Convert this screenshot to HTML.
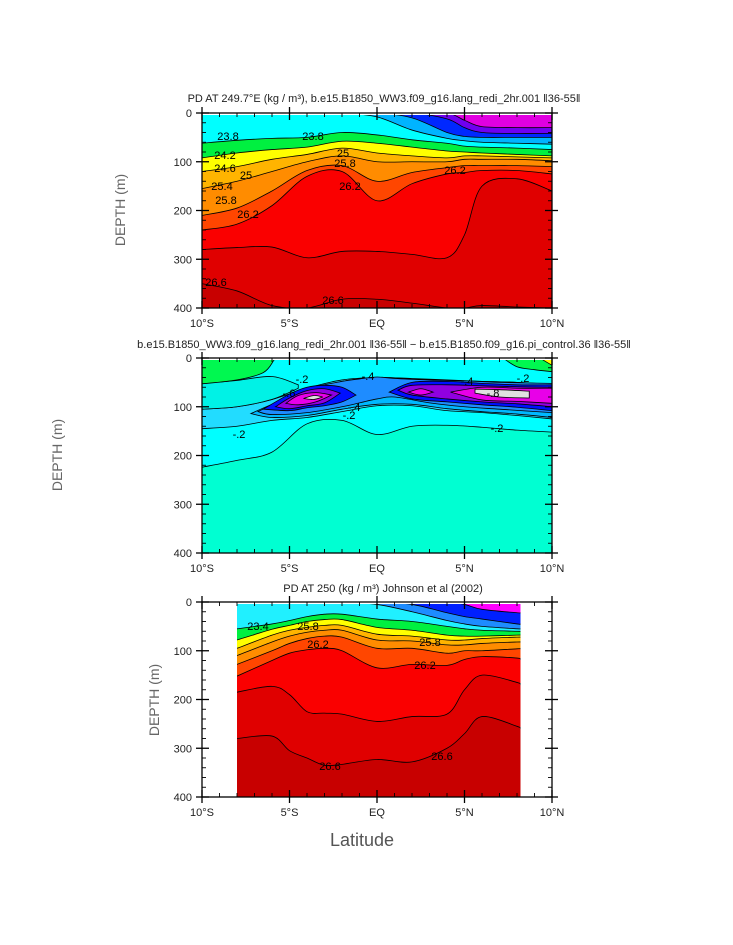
<!DOCTYPE html>
<html><head><meta charset="utf-8"><style>
html,body{margin:0;padding:0;background:#fff;}
svg{display:block;font-family:"Liberation Sans",sans-serif;}
</style></head><body>
<svg id="fig" width="733" height="945" viewBox="0 0 733 945">
</svg>
<script>
// ---------- DATA ----------
const panelLatTicks = [-10,-5,0,5,10];
const latTickLabels = ["10°S","5°S","EQ","5°N","10°N"];
const depthTicks = [0,100,200,300,400];

// Panel 1: depth (m) of density surfaces at these latitudes
const lats1 = [-10,-8,-6,-4,-2,0,2,4,5,6,8,10];
const p1_266 = [350,365,395,400,382,382,390,400,400,395,398,400];
const p1_264 = [280,276,275,297,284,284,290,297,250,150,135,160];
const p1_262 = [240,228,190,130,120,180,145,125,122,118,118,125];
const p1_260 = [210,195,160,118,108,140,122,112,108,108,108,110];
const p1_254 = [155,140,120,100,88,100,100,100,95,95,95,98];
const p1_250 = [120,110,95,85,72,82,88,92,88,88,90,92];
const p1_246 = [92,82,75,70,58,62,70,78,80,82,85,88];
const p1_242 = [62,56,52,50,40,45,55,62,68,70,72,75];
const p1_236 = [0,0,0,0,0,8,35,52,57,60,62,64];
const p1_232 = [0,0,0,0,0,0,10,40,48,50,50,50];
const p1_228 = [0,0,0,0,0,0,0,12,30,40,42,42];
const p1_224 = [0,0,0,0,0,0,0,0,15,28,30,30];

// Panel 3
const lats3 = [-8,-6,-5,-4,-3,-2,0,2,4,5,6,8,8.2];
const p3_266 = [280,275,305,320,335,333,323,328,300,270,235,255,260];
const p3_264 = [185,173,190,225,228,230,245,235,230,180,150,165,170];
const p3_262 = [152,120,105,98,95,100,135,128,130,118,112,115,118];
const p3_260 = [128,100,85,75,70,72,95,95,105,100,100,96,96];
const p3_254 = [110,82,70,62,58,58,78,80,88,88,85,82,82];
const p3_250 = [95,68,58,52,48,48,66,70,78,78,75,72,72];
const p3_246 = [78,56,48,40,36,36,52,58,68,70,70,68,68];
const p3_242 = [55,45,38,30,25,25,35,40,50,55,58,60,60];
const p3_236 = [0,0,0,0,0,0,5,20,38,45,50,55,55];
const p3_232 = [0,0,0,0,0,0,0,5,22,30,35,45,45];
const p3_224 = [0,0,0,0,0,0,0,0,0,5,15,22,22];

// Panel 2 difference field bands: lat, top depth, bottom depth
const d2_cyanLat = [-10,-8,-6,-4,-2,0,2,4,6,8,10];
const d2_cyanBot = [224,210,193,135,128,157,140,138,142,148,152];
const d2_envTop = [105,100,85,62,45,40,42,45,48,50,55];
const d2_envBot = [145,140,128,122,110,98,98,108,112,118,125];
const d2_tealLat = [-10,-8,-6,-4.5];
const d2_tealTop = [52,46,38,55];
const d2_tealBot = [105,100,85,62];
const d2_lbLat = [-7.2,-6,-4,-2,0,2,4,6,8,10];
const d2_lbTop = [114,95,68,48,40,43,46,48,50,54];
const d2_lbBot = [114,122,118,105,95,95,104,110,115,122];
const d2_mbLat = [-6.8,-6,-4,-2,-1,0,1,3,5,7,10];
const d2_mbTop = [110,96,64,48,43,39,42,45,47,50,52];
const d2_mbBot = [110,116,112,100,92,84,80,92,100,105,112];
const d2_bLLat = [-6.5,-5,-4,-3,-2,-1.2];
const d2_bLTop = [105,74,60,56,60,76];
const d2_bLBot = [105,108,102,98,90,76];
const d2_bRLat = [0.7,2,4,6,8,10];
const d2_bRTop = [70,50,48,52,55,55];
const d2_bRBot = [70,84,90,96,101,108];
const d2_pLLat = [-5.8,-5,-4,-3,-2.1];
const d2_pLTop = [100,82,67,63,72];
const d2_pLBot = [100,104,98,92,72];
const d2_pRLat = [1.2,2,4,6,8,10];
const d2_pRTop = [66,56,55,57,59,60];
const d2_pRBot = [66,76,84,90,94,100];
const d2_mLLat = [-5.2,-4.5,-3.5,-2.6];
const d2_mLTop = [93,77,71,76];
const d2_mLBot = [93,96,90,76];
const d2_m1Lat = [1.8,2.5,3.2];
const d2_m1Top = [70,63,70];
const d2_m1Bot = [70,76,70];
const d2_m2Lat = [4.2,6,8,10];
const d2_m2Top = [70,60,62,62];
const d2_m2Bot = [70,86,89,93];
const d2_wLLat = [-4.2,-3.6,-3.1];
const d2_wLTop = [83,77,80];
const d2_wLBot = [83,85,80];
const d2_wRLat = [5.6,7,8.7];
const d2_wRTop = [64,65,68];
const d2_wRBot = [72,80,82];
const d2_gLLat = [-10,-8,-6.5,-5.9,-5.85];
const d2_gLBot = [53,45,30,5,0];
const d2_gRLat = [7.2,8,9,10];
const d2_gRBot = [0,18,24,28];
const d2_yLat = [9.3,10];
const d2_yBot = [0,15];

// ---------- DRAW ----------
const NS="http://www.w3.org/2000/svg";
const svg=document.getElementById('fig');
const panels=[{x0:202,x1:552,y0:113,y1:308},{x0:202,x1:552,y0:358,y1:553},{x0:202,x1:552,y0:602,y1:797}];
function X(p,lat){return p.x0+(lat+10)/20*(p.x1-p.x0);}
function Y(p,d){return p.y0+d/400*(p.y1-p.y0);}
function mk(tag,attrs,parent){const e=document.createElementNS(NS,tag);for(const k in attrs)e.setAttribute(k,attrs[k]);(parent||svg).appendChild(e);return e;}
function crPath(pts,move){
  let s=move?`M${pts[0][0]},${pts[0][1]}`:`L${pts[0][0]},${pts[0][1]}`;
  for(let i=0;i<pts.length-1;i++){
    const p0=pts[Math.max(0,i-1)],p1=pts[i],p2=pts[i+1],p3=pts[Math.min(pts.length-1,i+2)];
    const c1=[p1[0]+(p2[0]-p0[0])/6,p1[1]+(p2[1]-p0[1])/6];
    const c2=[p2[0]-(p3[0]-p1[0])/6,p2[1]-(p3[1]-p1[1])/6];
    s+=` C${c1[0]},${c1[1]} ${c2[0]},${c2[1]} ${p2[0]},${p2[1]}`;
  }
  return s;
}
function surface(g,p,lats,depths,color,name,top){
  top=top||0;
  const pts=lats.map((l,i)=>[X(p,l),Y(p,depths[i])]);
  let d=`M${X(p,lats[0])},${Y(p,top)} `+crPath(pts,false)+` L${X(p,lats[lats.length-1])},${Y(p,top)} Z`;
  const e=mk('path',{d:d,fill:color,stroke:'none'},g);
  
  
  const ln=mk('path',{d:crPath(pts,true),fill:'none',stroke:'#000','stroke-width':0.8},g);
  
  
}
function band(g,p,lats,tops,bots,color,name){
  const t=lats.map((l,i)=>[X(p,l),Y(p,tops[i])]);
  const b=lats.map((l,i)=>[X(p,l),Y(p,bots[i])]).reverse();
  const d=crPath(t,true)+' '+crPath(b,false)+' Z';
  const e=mk('path',{d:d,fill:color,stroke:'#000','stroke-width':0.8},g);
  
  
}
function label(g,x,y,t,name){
  const e=mk('text',{x:x,y:y,'font-size':11,fill:'#000','text-anchor':'middle'},g);
  e.textContent=t;
  
  
}
function clipGroup(i,p,dx0,dx1,dy0){
  const cp=mk('clipPath',{id:'c'+i});
  mk('rect',{x:dx0,y:dy0,width:dx1-dx0,height:p.y1-dy0},cp);
  const g=mk('g',{'clip-path':'url(#c'+i+')'});
  
  
  return g;
}
function axes(i,p){
  const g=mk('g',{});
  
  
  mk('rect',{x:p.x0,y:p.y0,width:p.x1-p.x0,height:p.y1-p.y0,fill:'none',stroke:'#000','stroke-width':1.3},g);
  for(let l=-10;l<=10;l++){
    const x=X(p,l), maj=l%5===0;
    const a=maj?7:4;
    mk('line',{x1:x,y1:p.y1+(maj?6:0),x2:x,y2:p.y1-a,stroke:'#000','stroke-width':maj?1.3:0.9},g);
    mk('line',{x1:x,y1:p.y0-(maj?6:0),x2:x,y2:p.y0+a,stroke:'#000','stroke-width':maj?1.3:0.9},g);
  }
  for(let d=0;d<=400;d+=20){
    const y=Y(p,d), maj=d%100===0;
    const a=maj?7:4;
    mk('line',{x1:p.x0-(maj?6:0),y1:y,x2:p.x0+a,y2:y,stroke:'#000','stroke-width':maj?1.3:0.9},g);
    mk('line',{x1:p.x1+(maj?6:0),y1:y,x2:p.x1-a,y2:y,stroke:'#000','stroke-width':maj?1.3:0.9},g);
  }
  depthTicks.forEach(d=>{
    const t=mk('text',{x:p.x0-10,y:Y(p,d)+4,'font-size':11,fill:'#222','text-anchor':'end'},g);
    t.textContent=String(d);
    
    
  });
  panelLatTicks.forEach((l,k)=>{
    const t=mk('text',{x:X(p,l),y:p.y1+19,'font-size':11,fill:'#222','text-anchor':'middle'},g);
    t.textContent=latTickLabels[k];
    
    
  });
}

// Panel 1
(function(){
  const p=panels[0];
  const g=clipGroup(0,p,p.x0,p.x1,p.y0+2);
  mk('rect',{x:p.x0,y:p.y0,width:p.x1-p.x0,height:p.y1-p.y0,fill:'#c80000'},g);
  surface(g,p,lats1,p1_266,'#e00000','band-266');
  surface(g,p,lats1,p1_264,'#fa0000','band-264');
  surface(g,p,lats1,p1_262,'#ff4600','band-262');
  surface(g,p,lats1,p1_260,'#ff8c00','band-260');
  surface(g,p,lats1,p1_254,'#ffb400','band-254');
  surface(g,p,lats1,p1_250,'#ffff00','band-250');
  surface(g,p,lats1,p1_246,'#00f040','band-246');
  surface(g,p,lats1,p1_242,'#00ffff','band-242');
  surface(g,p,lats1,p1_236,'#00b4ff','band-236');
  surface(g,p,lats1,p1_232,'#0028ff','band-232');
  surface(g,p,lats1,p1_228,'#7000f0','band-228');
  surface(g,p,lats1,p1_224,'#e000e0','band-224');
  label(g,228,140,'23.8','lbl');label(g,313,140,'23.8','lbl');
  label(g,225,159,'24.2','lbl');label(g,225,172,'24.6','lbl');
  label(g,246,179,'25','lbl');label(g,222,190,'25.4','lbl');
  label(g,226,204,'25.8','lbl');label(g,248,218,'26.2','lbl');
  label(g,350,190,'26.2','lbl');label(g,455,174,'26.2','lbl');
  label(g,216,286,'26.6','lbl');label(g,333,304,'26.6','lbl');
  label(g,343,157,'25','lbl');label(g,345,167,'25.8','lbl');
  axes(0,p);
})();

// Panel 2
(function(){
  const p=panels[1];
  const g=clipGroup(1,p,p.x0,p.x1,p.y0+2);
  mk('rect',{x:p.x0,y:p.y0,width:p.x1-p.x0,height:p.y1-p.y0,fill:'#00ffd2'},g);
  surface(g,p,d2_cyanLat,d2_cyanBot,'#00ffff','cyan-band');
  band(g,p,d2_cyanLat,d2_envTop,d2_envBot,'#22dcff','minus-02-band');
  band(g,p,d2_tealLat,d2_tealTop,d2_tealBot,'#00f2e6','teal-band');
  band(g,p,d2_lbLat,d2_lbTop,d2_lbBot,'#00b8ff','light-blue-band');
  band(g,p,d2_mbLat,d2_mbTop,d2_mbBot,'#1e8cff','mid-blue-band');
  band(g,p,d2_bLLat,d2_bLTop,d2_bLBot,'#0010ff','blue-blob-left');
  band(g,p,d2_bRLat,d2_bRTop,d2_bRBot,'#0010ff','blue-blob-right');
  band(g,p,d2_pLLat,d2_pLTop,d2_pLBot,'#9000e0','purple-blob-left');
  band(g,p,d2_pRLat,d2_pRTop,d2_pRBot,'#9000e0','purple-blob-right');
  band(g,p,d2_mLLat,d2_mLTop,d2_mLBot,'#e800e8','magenta-blob-left');
  band(g,p,d2_m1Lat,d2_m1Top,d2_m1Bot,'#e800e8','magenta-blob-mid');
  band(g,p,d2_m2Lat,d2_m2Top,d2_m2Bot,'#e800e8','magenta-blob-right');
  band(g,p,d2_wLLat,d2_wLTop,d2_wLBot,'#e0e0e0','white-blob-left');
  band(g,p,d2_wRLat,d2_wRTop,d2_wRBot,'#e0e0e0','white-blob-right');
  surface(g,p,d2_gLLat,d2_gLBot,'#00f850','green-top-left');
  surface(g,p,d2_gRLat,d2_gRBot,'#00f850','green-top-right');
  surface(g,p,d2_yLat,d2_yBot,'#ffff00','yellow-top-right');
  label(g,302,383,'-.2','lbl');label(g,368,380,'-.4','lbl');
  label(g,239,438,'-.2','lbl');label(g,349,419,'-.2','lbl');
  label(g,354,411,'-.4','lbl');label(g,497,432,'-.2','lbl');
  label(g,493,397,'-.8','lbl');label(g,289,397,'-.6','lbl');
  label(g,467,385,'-.4','lbl');label(g,523,382,'-.2','lbl');
  axes(1,p);
})();

// Panel 3
(function(){
  const p=panels[2];
  const g=clipGroup(2,p,X(p,-8),X(p,8.2),p.y0+2);
  mk('rect',{x:p.x0,y:p.y0,width:p.x1-p.x0,height:p.y1-p.y0,fill:'#c80000'},g);
  surface(g,p,lats3,p3_266,'#e00000','band-266');
  surface(g,p,lats3,p3_264,'#fa0000','band-264');
  surface(g,p,lats3,p3_262,'#ff4600','band-262');
  surface(g,p,lats3,p3_260,'#ff8c00','band-260');
  surface(g,p,lats3,p3_254,'#ffb400','band-254');
  surface(g,p,lats3,p3_250,'#ffff00','band-250');
  surface(g,p,lats3,p3_246,'#00f040','band-246');
  surface(g,p,lats3,p3_242,'#20f0ff','band-242');
  surface(g,p,lats3,p3_236,'#1e8cff','band-236');
  surface(g,p,lats3,p3_232,'#0020ff','band-232');
  surface(g,p,lats3,p3_224,'#ff00ff','band-224');
  label(g,258,630,'23.4','lbl');label(g,318,648,'26.2','lbl');
  label(g,425,669,'26.2','lbl');label(g,330,770,'26.6','lbl');
  label(g,442,760,'26.6','lbl');label(g,430,646,'25.8','lbl');
  label(g,308,630,'25.8','lbl');
  axes(2,p);
})();

// Titles & axis labels
function txt(x,y,s,size,name,fill,anchor,rot){
  const a={x:x,y:y,'font-size':size,fill:fill||'#222','text-anchor':anchor||'middle'};
  if(rot)a.transform=`rotate(-90 ${x} ${y})`;
  const e=mk('text',a);
  e.textContent=s;
  
  
  return e;
}
txt(384,102,'PD AT 249.7°E (kg / m³), b.e15.B1850_WW3.f09_g16.lang_redi_2hr.001 ‖36-55‖',11,'title-panel-1');
txt(384,348,'b.e15.B1850_WW3.f09_g16.lang_redi_2hr.001 ‖36-55‖ − b.e15.B1850.f09_g16.pi_control.36 ‖36-55‖',11,'title-panel-2');
txt(383,592,'PD AT 250 (kg / m³) Johnson et al (2002)',11,'title-panel-3');
txt(125,210,'DEPTH (m)',14,'y-axis-title-1','#666','middle',true);
txt(62,455,'DEPTH (m)',14,'y-axis-title-2','#666','middle',true);
txt(159,700,'DEPTH (m)',14,'y-axis-title-3','#666','middle',true);
txt(362,846,'Latitude',18,'x-axis-title','#555');
</script>
</body></html>
